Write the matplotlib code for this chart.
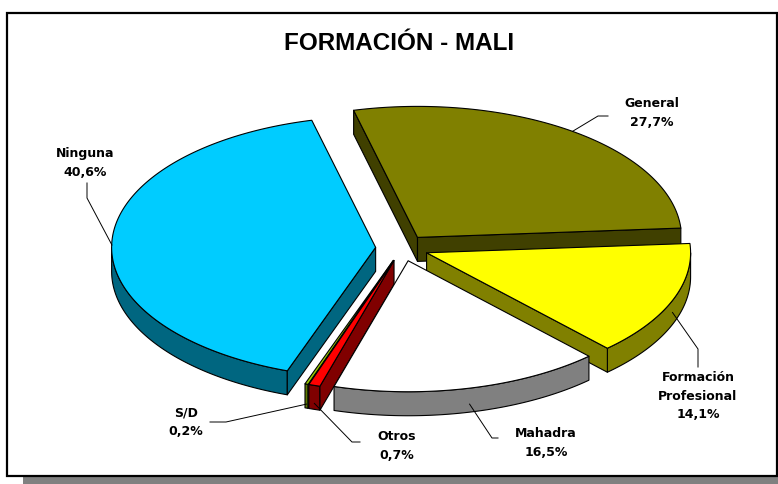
import numpy as np
import matplotlib.pyplot as plt
from matplotlib.patches import Polygon, Rectangle

# data
categories = ['General', 'Formación\nProfesional', 'Mahadra', 'Otros', 'S/D', 'Ninguna']
values = [27.7, 14.1, 16.5, 0.7, 0.2, 40.6]
pct_text = ['27,7%', '14,1%', '16,5%', '0,7%', '0,2%', '40,6%']
top_colors = ['#808000', '#FFFF00', '#FFFFFF', '#FF0000', '#99CC00', '#00CCFF']
side_colors = ['#404000', '#808000', '#808080', '#800000', '#5C7A00', '#006680']

W, H = 778, 484
fig = plt.figure(figsize=(W / 100, H / 100), dpi=100)
ax = fig.add_axes([0, 0, 1, 1])
ax.set_xlim(0, W)
ax.set_ylim(H, 0)
ax.axis('off')

# chart frame with shadow
ax.add_patch(Rectangle((23, 29), 770, 460, facecolor='#808080', edgecolor='none', zorder=0))
ax.add_patch(Rectangle((7, 13), 770, 463, facecolor='white', edgecolor='black', lw=1.6, zorder=1))

ax.text(399, 44, 'FORMACIÓN - MALI', ha='center', va='center', fontsize=17.5,
        fontweight='bold', family='Liberation Sans', zorder=10)

# pseudo 3d pie geometry
cx, cy = 402, 248
rx, ry = 264, 131
depth = 24
explode = 0.1
start = -14.0


def arc(ox, oy, a, b, dz=0, n=None):
    if n is None:
        n = max(int(abs(b - a) * 2), 2)
    t = np.radians(np.linspace(a, b, n))
    return np.column_stack([ox + rx * np.sin(t), oy - ry * np.cos(t) + dz])


fr = np.array(values) / sum(values) * 360
ends = start + np.cumsum(fr)
starts = ends - fr
mids = (starts + ends) / 2

slices = []
for i in range(len(values)):
    m = np.radians(mids[i])
    ox = cx + explode * rx * np.sin(m)
    oy = cy - explode * ry * np.cos(m)
    slices.append((ox, oy))

order = np.argsort(np.cos(np.radians(mids)))[::-1]
kw = dict(edgecolor='black', lw=0.8, joinstyle='round')
z = 2
for i in order:
    ox, oy = slices[i]
    a, b = starts[i], ends[i]
    # outer wall (front half only)
    wa, wb = max(a, 90), min(b, 270)
    if wb > wa:
        top = arc(ox, oy, wa, wb)
        bot = arc(ox, oy, wa, wb, dz=depth)[::-1]
        ax.add_patch(Polygon(np.vstack([top, bot]), closed=True, facecolor=side_colors[i], zorder=z, **kw))
        z += 1
    # radial faces
    if np.sin(np.radians(a)) < 0:
        p = arc(ox, oy, a, a, n=1)[0]
        ax.add_patch(Polygon([(ox, oy), p, (p[0], p[1] + depth), (ox, oy + depth)], closed=True,
                             facecolor=side_colors[i], zorder=z, **kw))
        z += 1
    if np.sin(np.radians(b)) > 0:
        p = arc(ox, oy, b, b, n=1)[0]
        ax.add_patch(Polygon([(ox, oy), p, (p[0], p[1] + depth), (ox, oy + depth)], closed=True,
                             facecolor=side_colors[i], zorder=z, **kw))
        z += 1
    # top face
    pts = np.vstack([[ox, oy], arc(ox, oy, a, b)])
    ax.add_patch(Polygon(pts, closed=True, facecolor=top_colors[i], zorder=z, **kw))
    z += 1

# labels and leader lines
label_pos = [(652, 113), (698, 396), (546, 443), (397, 446), (186, 422), (85, 163)]
elbows = [(598, 116), (698, 349), (492, 438), (352, 442), (226, 422), (87, 198)]
knees = [(608, 116), (698, 367), (498, 438), (360, 442), (210, 422), (87, 183)]
anchor_dz = [0, 12, 16, 18, 20, 4]
for i in range(len(values)):
    ox, oy = slices[i]
    p = arc(ox, oy, mids[i], mids[i], n=1)[0]
    ax.plot([knees[i][0], elbows[i][0], p[0]], [knees[i][1], elbows[i][1], p[1] + anchor_dz[i]],
            color='black', lw=0.7, zorder=60)
    lx, ly = label_pos[i]
    ax.text(lx, ly, categories[i] + '\n' + pct_text[i], ha='center', va='center', fontsize=9,
            fontweight='bold', family='DejaVu Sans', linespacing=1.55, zorder=61)

fig.savefig('out.png', dpi=100)
